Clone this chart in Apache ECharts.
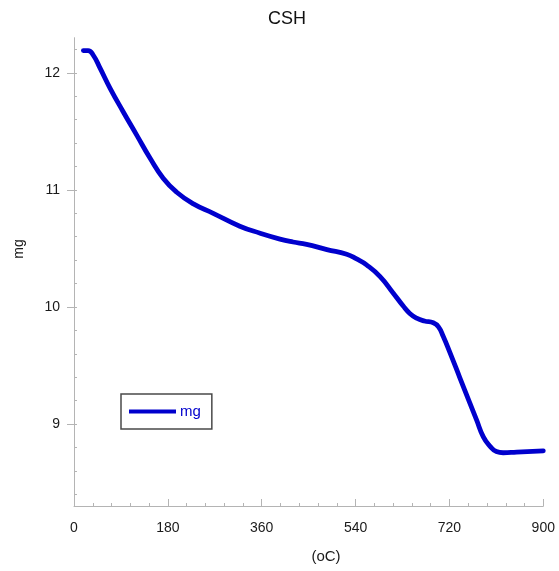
<!DOCTYPE html>
<html>
<head>
<meta charset="utf-8">
<title>CSH</title>
<script src="https://cdn.jsdelivr.net/npm/echarts@6/dist/echarts.min.js"></script>
<style>
  html, body { margin: 0; padding: 0; background: #ffffff; }
  #chart { width: 559px; height: 571px; }
</style>
</head>
<body>
<div id="chart"></div>
<script>
// Thermogravimetric curve: sample mass (mg) against temperature (oC)
const temperature = [18, 27, 37, 50, 69, 94, 120, 146, 171, 197, 229, 267, 318, 357, 395, 420, 446, 485, 523, 542, 561, 587, 612, 631, 644, 657, 672, 689, 699, 708, 721, 740, 759, 772, 785, 798, 810, 823, 849, 900];
const mass = [12.19, 12.19, 12.15, 12.04, 11.87, 11.67, 11.47, 11.27, 11.10, 10.98, 10.88, 10.80, 10.69, 10.63, 10.58, 10.555, 10.535, 10.49, 10.45, 10.41, 10.36, 10.26, 10.12, 10.01, 9.945, 9.905, 9.88, 9.865, 9.83, 9.75, 9.61, 9.395, 9.18, 9.035, 8.89, 8.81, 8.765, 8.755, 8.76, 8.77];

const xTicks = [0, 180, 360, 540, 720, 900];
const yTicks = [9, 10, 11, 12];
const yMinorTicks = [8.4, 8.6, 8.8, 9, 9.2, 9.4, 9.6, 9.8, 10, 10.2, 10.4, 10.6, 10.8, 11, 11.2, 11.4, 11.6, 11.8, 12, 12.2];

const seriesName = 'mg';
const titleText = 'CSH';
const xName = '(oC)';
const yName = 'mg';

const lineColor = '#0000cd';
const axisColor = '#b4b4b4';
const font = '"Liberation Sans", Arial, sans-serif';

const points = temperature.map((t, i) => [t, mass[i]]);

const chart = echarts.init(document.getElementById('chart'), null, { renderer: 'canvas' });

chart.setOption({
  backgroundColor: '#ffffff',
  animation: false,
  grid: { left: 74, right: 15.7, top: 37.7, bottom: 65, containLabel: false },
  xAxis: {
    type: 'value',
    min: xTicks[0],
    max: xTicks[xTicks.length - 1],
    interval: 180,
    axisLine: { show: true, lineStyle: { color: axisColor, width: 1 } },
    axisTick: { show: true, inside: true, length: 7, lineStyle: { color: axisColor } },
    minorTick: { show: true, splitNumber: 5, length: 3, lineStyle: { color: axisColor } },
    axisLabel: { color: '#1a1a1a', fontSize: 14, fontFamily: font, margin: 15 },
    splitLine: { show: false }
  },
  yAxis: [
    {
      type: 'value',
      min: 8.3,
      max: 12.3,
      axisLine: { show: true, lineStyle: { color: axisColor, width: 1 } },
      axisTick: { show: true, inside: false, length: 7, customValues: yTicks, lineStyle: { color: axisColor } },
      axisLabel: { color: '#1a1a1a', fontSize: 14, fontFamily: font, margin: 14, customValues: yTicks },
      splitLine: { show: false }
    },
    {
      type: 'value',
      position: 'left',
      min: 8.3,
      max: 12.3,
      axisLine: { show: false },
      axisTick: { show: true, inside: true, length: 3, customValues: yMinorTicks, lineStyle: { color: axisColor } },
      axisLabel: { show: false },
      splitLine: { show: false }
    }
  ],
  legend: {
    data: [{ name: seriesName, icon: 'rect' }],
    left: 121,
    top: 394,
    orient: 'horizontal',
    padding: [10, 11, 10, 8],
    itemWidth: 47,
    itemHeight: 4,
    itemGap: 5,
    borderColor: '#4a4a4a',
    borderWidth: 1.5,
    backgroundColor: '#ffffff',
    itemStyle: { color: lineColor },
    textStyle: { color: lineColor, fontSize: 15, fontFamily: font, padding: [0, 0, 0, -1] }
  },
  graphic: [
    {
      type: 'text',
      x: 287,
      y: 19.5,
      style: { text: titleText, fill: '#111111', font: '18px ' + font, align: 'center', verticalAlign: 'middle' }
    },
    {
      type: 'text',
      x: 326,
      y: 557,
      style: { text: xName, fill: '#1a1a1a', font: '15px ' + font, align: 'center', verticalAlign: 'middle' }
    },
    {
      type: 'text',
      x: 19,
      y: 249,
      rotation: Math.PI / 2,
      style: { text: yName, fill: '#1a1a1a', font: '14px ' + font, align: 'center', verticalAlign: 'middle' }
    }
  ],
  series: [
    {
      name: seriesName,
      type: 'line',
      xAxisIndex: 0,
      yAxisIndex: 0,
      data: points,
      smooth: 0.5,
      symbol: 'none',
      lineStyle: { color: lineColor, width: 4.8, cap: 'round', join: 'round' },
      itemStyle: { color: lineColor }
    }
  ]
});
</script>
</body>
</html>
